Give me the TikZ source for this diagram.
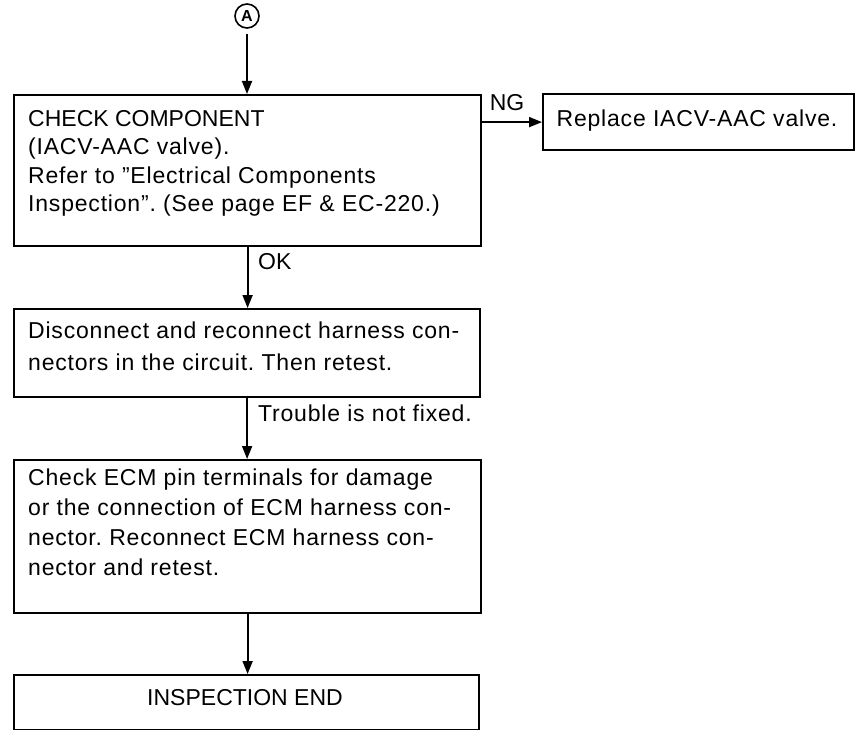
\documentclass[tikz,border=0pt]{standalone}
\usepackage{fontspec}
\setmainfont{Liberation Sans}
\usetikzlibrary{arrows.meta}
\frenchspacing
\newcommand{\wide}{\addfontfeature{LetterSpace=3.5}}
\begin{document}
\begin{tikzpicture}[x=1pt,y=-1pt,
  box/.style={draw, line width=2.2pt, rectangle, inner sep=0pt, anchor=north west},
  txt/.style={anchor=north west, align=left, inner sep=0pt},
  body/.style={font=\fontsize{23}{#1}\selectfont},
  flow/.style={line width=1.8pt, -{Triangle[length=13pt,width=10pt]}},
  lbl/.style={font=\fontsize{23}{28}\selectfont, inner sep=0pt}]
\useasboundingbox (0,0) rectangle (856,730);

% entry marker
\node[draw, circle, line width=1.6pt, minimum size=24pt, inner sep=0pt,
      font=\bfseries\fontsize{16}{16}\selectfont] (cA) at (247,16) {A};

% boxes
\node[box, minimum width=467pt, minimum height=151pt] (b1) at (13,94) {};
\node[box, minimum width=311pt, minimum height=56pt] (b2) at (542,93) {};
\node[box, minimum width=466pt, minimum height=88pt] (b3) at (13,308) {};
\node[box, minimum width=467pt, minimum height=153pt] (b4) at (13,459) {};
\node[box, minimum width=465pt, minimum height=55pt] (b5) at (13,674) {};

% box texts
\node[txt, body=28.5] (t1) at (28,110) {CHECK COMPONENT\\{\wide(IACV-AAC valve).}\\{\wide Refer to ''Electrical Components}\\{\wide Inspection''. (See page EF \& EC-220.)}};
\node[lbl] (t2) at (697,121) {\wide Replace IACV-AAC valve.};
\node[txt, body=31.5] (t3) at (28,322) {\wide Disconnect and reconnect harness con-\\\wide nectors in the circuit. Then retest.};
\node[txt, body=30] (t4) at (28,469) {\wide Check ECM pin terminals for damage\\\wide or the connection of ECM harness con-\\\wide nector. Reconnect ECM harness con-\\\wide nector and retest.};
\node[lbl] (t5) at (245,698) {INSPECTION END};

% connectors
\draw[flow] ([yshift=-5pt]cA.south) -- (cA.south |- b1.north);
\draw[flow] (b1.east |- b2.west) -- (b2.west);
\draw[flow] (b1.south) -- (b1.south |- b3.north);
\draw[flow] (b3.south) -- (b3.south |- b4.north);
\draw[flow] (b4.south) -- (b4.south |- b5.north);

% branch labels
\node[lbl] (ng) at (507,103) {NG};
\node[lbl, anchor=west] (ok) at (258,262) {OK};
\node[lbl, anchor=west] (nf) at (258,413) {\wide Trouble is not fixed.};
\end{tikzpicture}
\end{document}
